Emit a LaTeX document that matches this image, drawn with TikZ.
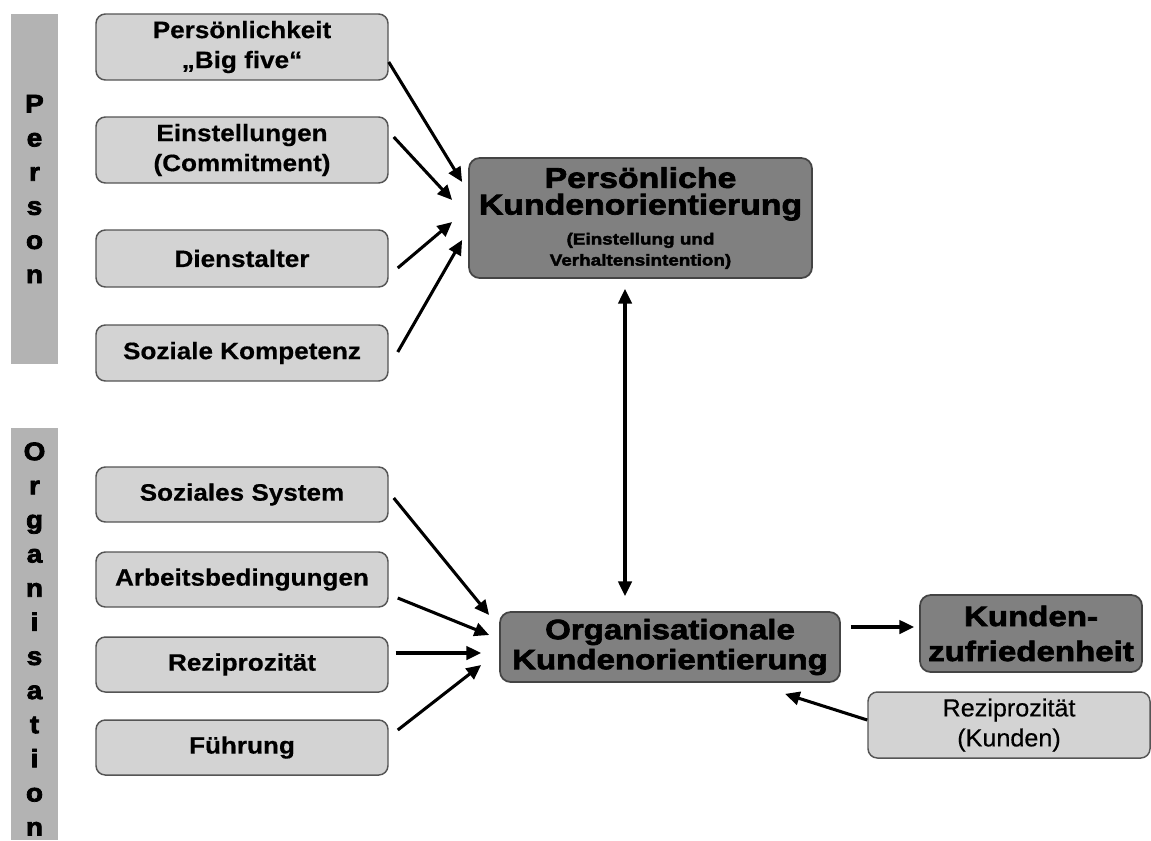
\documentclass[tikz,border=0pt]{standalone}
\usepackage{fontspec}
\setmainfont{Liberation Sans}[FakeStretch=1.1, BoldFeatures={FakeBold=0.5}]
\newfontface\heavyfont{Liberation Sans Bold}[FakeStretch=1.18,FakeBold=2.4]
\newfontface\sidefont{Liberation Sans Bold}[FakeStretch=1.1,FakeBold=3]
\newfontface\plainfont{Liberation Sans}[FakeStretch=1.02,FakeBold=0.4]
\usetikzlibrary{calc,arrows.meta}

\definecolor{barfill}{HTML}{B3B3B3}
\definecolor{lightfill}{HTML}{D3D3D3}
\definecolor{darkfill}{HTML}{808080}
\definecolor{edgegray}{HTML}{555555}

\tikzset{
  wh/.style 2 args={minimum width={#1*0.75pt}, minimum height={#2*0.75pt}},
  sidebar/.style={fill=barfill, draw=none, inner sep=0pt},
  sidelabel/.style={font=\sidefont\fontsize{19}{25.6}\selectfont, align=center, inner sep=0pt},
  lbox/.style={draw=edgegray, line width=1.1pt, fill=lightfill, rounded corners=7pt,
    inner sep=0pt, align=center, font=\bfseries\fontsize{17.8}{22.5}\selectfont},
  rbox/.style={lbox, font=\plainfont\fontsize{18.5}{22.5}\selectfont},
  dbox/.style={draw=edgegray!80!black, line width=1.3pt, fill=darkfill, rounded corners=8pt,
    inner sep=0pt, align=center},
  arr/.style={line width=2.3pt, -{Triangle[length=11pt,width=10pt]}},
  biarr/.style={line width=2.3pt, {Triangle[length=11pt,width=10pt]}-{Triangle[length=11pt,width=10pt]}}
}

\begin{document}
\begin{tikzpicture}[x=0.75pt,y=-0.75pt]
\useasboundingbox (0,0) rectangle (1151,840);

% side bars with stacked letters
\node[sidebar, wh={47}{350}] (personbar) at (34.5,189) {};
\node[sidebar, wh={47}{412}] (orgbar) at (34.5,634) {};
\node[sidelabel] (personlbl) at (34.5,189) {P\\e\\r\\s\\o\\n};
\node[sidelabel] (orglbl) at (34.5,639) {O\\r\\g\\a\\n\\i\\s\\a\\t\\i\\o\\n};

% person factors
\node[lbox, wh={292}{66}] (b1) at (242,47) {Persönlichkeit\\„Big five“};
\node[lbox, wh={292}{66}] (b2) at (242,150) {Einstellungen\\(Commitment)};
\node[lbox, wh={292}{57}] (b3) at (242,258.5) {Dienstalter};
\node[lbox, wh={292}{56}] (b4) at (242,353) {Soziale Kompetenz};

% organisation factors
\node[lbox, wh={292}{55}] (s1) at (242,494.5) {Soziales System};
\node[lbox, wh={292}{55}] (s2) at (242,579.5) {Arbeitsbedingungen};
\node[lbox, wh={292}{55}] (s3) at (242,664.5) {Reziprozität};
\node[lbox, wh={292}{55}] (s4) at (242,747.5) {Führung};

% central constructs
\node[dbox, wh={343}{120}, font=\heavyfont\fontsize{21.5}{20}\selectfont] (pko) at (640.5,218)
  {Persönliche\\Kundenorientierung\\[2.5pt]
   \fontsize{12}{20}\selectfont (Einstellung und\\[-4.2pt]
   \fontsize{12}{20}\selectfont Verhaltensintention)};

\node[dbox, wh={340}{70}, font=\heavyfont\fontsize{21}{22.5}\selectfont] (org) at (670,647)
  {Organisationale\\Kundenorientierung};

\node[dbox, wh={222}{77}, font=\heavyfont\fontsize{21}{26.25}\selectfont] (kz) at (1031,633.5)
  {Kunden-\\zufriedenheit};

\node[rbox, wh={282}{66}] (rk) at (1009,725) {Reziprozität\\(Kunden)};

% influences on personal orientation
\draw[arr] ($(b1.east)+(0,15)$) -- ($(pko.west)+(-6,-36)$);
\draw[arr] ($(b2.east)+(5,-13)$) -- ($(pko.west)+(-16,-18)$);
\draw[arr] ($(b3.east)+(9,9.5)$) -- ($(pko.west)+(-16,4)$);
\draw[arr] ($(b4.east)+(9,-1)$) -- ($(pko.west)+(-6,22)$);

% influences on organisational orientation
\draw[arr] ($(s1.east)+(5,3.5)$) -- ($(org.west)+(-10,-32)$);
\draw[arr] ($(s2.east)+(9,18.5)$) -- ($(org.west)+(-10,-12)$);
\draw[arr] ($(s3.east)+(7,-11.5)$) -- ($(org.west)+(-18,6)$);
\draw[arr] ($(s4.east)+(9,-17.5)$) -- ($(org.west)+(-18,18)$);

% mutual relation and outcome
\draw[biarr] ($(pko.south)+(-15.5,10)$) -- ($(org.north)+(-45,-15)$);
\draw[arr] ($(org.east)+(10,-20)$) -- ($(kz.west)+(-5,-6.5)$);
\draw[arr] ($(rk.west)+(0,-5)$) -- ($(org.south)+(115,11)$);
\end{tikzpicture}
\end{document}
